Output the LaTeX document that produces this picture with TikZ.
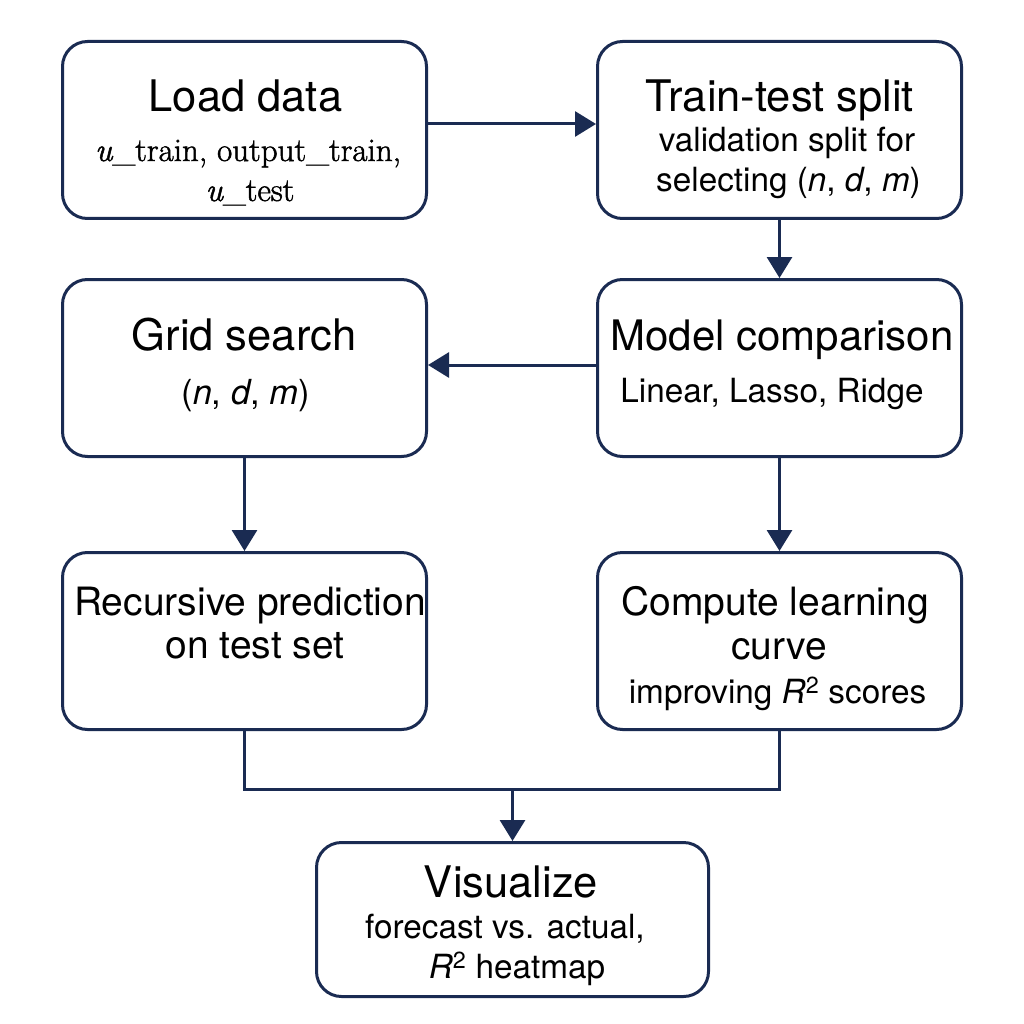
\documentclass[tikz,border=0pt]{standalone}
\usepackage{fontspec}
\setmainfont{TeX Gyre Heros}
\newfontfamily\lmr[FakeBold=1.5]{Latin Modern Roman}
\usetikzlibrary{arrows.meta}
\definecolor{navy}{HTML}{1A2B52}
\begin{document}
\begin{tikzpicture}[x=1pt,y=-1pt,
  box/.style={draw=navy, line width=3pt, rounded corners=25pt, minimum width=364pt, minimum height=177pt, inner sep=0pt},
  arr/.style={draw=navy, line width=3pt, -{Triangle[length=21pt,width=25pt]}},
  link/.style={draw=navy, line width=3pt},
  txt/.style={anchor=base, inner sep=0pt, text=black},
  ttl/.style={txt, font=\fontsize{43.5}{50}\selectfont},
  mid/.style={txt, font=\fontsize{39}{45}\selectfont},
  sub/.style={txt, font=\fontsize{33.3}{40}\selectfont},
  ser/.style={txt, font=\lmr\fontsize{33}{40}\selectfont}
]
\path[fill=white] (0,0) rectangle (1024,1024);
\useasboundingbox (0,0) rectangle (1024,1024);

% boxes
\node[box] (load)  at (244.5,130) {};
\node[box] (split) at (779.5,130) {};
\node[box] (grid)  at (244.5,368) {};
\node[box] (model) at (779.5,368) {};
\node[box] (rec)   at (244.5,641) {};
\node[box] (comp)  at (779.5,641) {};
\node[box, minimum width=392pt, minimum height=154pt] (vis) at (512.5,919.5) {};

% texts
\node[ttl] (loadT) at (245.5,112) {Load data};
\node[ser] (loadA) at (248,161) {{\itshape u}\_train, output\_train,};
\node[ser] (loadB) at (250,201) {{\itshape u}\_test};

\node[ttl] (splitT) at (780,112) {Train-test split};
\node[sub] (splitA) at (787,152) {validation split for};
\node[sub] (splitB) at (788.5,192) {selecting (\textit{n}, \textit{d}, \textit{m})};

\node[ttl] (gridT) at (244,350) {Grid search};
\node[sub, font=\fontsize{34.5}{40}\selectfont] (gridA) at (245.5,404) {(\textit{n}, \textit{d}, \textit{m})};

\node[ttl, font=\fontsize{42}{50}\selectfont] (modelT) at (782,350) {Model comparison};
\node[sub] (modelA) at (772,402) {Linear, Lasso, Ridge};

\node[mid] (recT) at (250,615) {Recursive prediction};
\node[mid] (recA) at (255,658) {on test set};

\node[mid] (compT) at (775,615) {Compute learning};
\node[mid] (compA) at (779,659) {curve};
\node[sub] (compB) at (777.5,703) {improving \textit{R}\textsuperscript{2} scores};

\node[ttl] (visT) at (511,897) {Visualize};
\node[sub] (visA) at (505,938) {forecast vs. actual,};
\node[sub] (visB) at (517,978) {\textit{R}\textsuperscript{2} heatmap};

% connectors
\draw[arr] ([yshift=6pt]load.east) -- ([yshift=6pt]split.west);
\draw[arr] (split.south) -- (model.north);
\draw[arr] ([yshift=3pt]model.west) -- ([yshift=3pt]grid.east);
\draw[arr] (grid.south) -- (rec.north);
\draw[arr] (model.south) -- (comp.north);
\coordinate (join) at (512.5,789);
\draw[link] (rec.south) -- (rec.south |- join) -- (comp.south |- join) -- (comp.south);
\draw[arr] (join) -- (vis.north);
\end{tikzpicture}
\end{document}
